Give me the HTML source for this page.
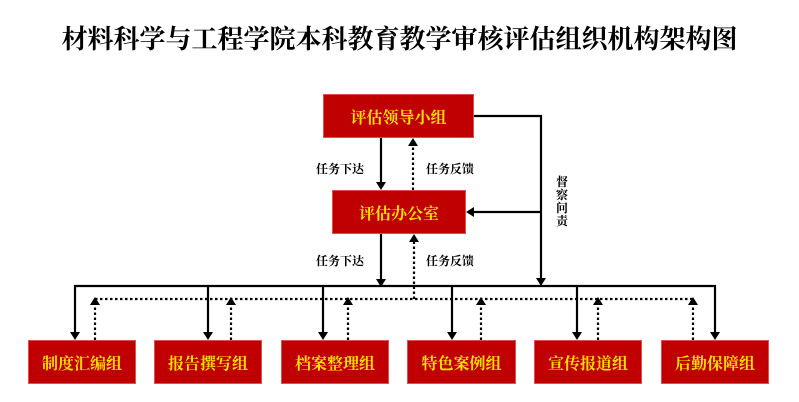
<!DOCTYPE html>
<html><head><meta charset="utf-8"><style>
body{margin:0;width:799px;height:402px;background:#fff;overflow:hidden;position:relative;font-family:"Liberation Serif","Noto Serif CJK SC",serif}
.t{position:absolute;left:0;width:799px;top:19px;text-align:center;font-size:26px;font-weight:bold;color:#000}
.b{position:absolute;background:#c00000;color:#ffe000;font-weight:bold;font-size:16px;display:flex;align-items:center;justify-content:center;border:1px solid #e05050;box-sizing:border-box}
.l{position:absolute;font-size:12px;font-weight:bold;color:#000}
</style></head><body>
<div class="t">材料科学与工程学院本科教育教学审核评估组织机构架构图</div>
<svg width="799" height="402" style="position:absolute;left:0;top:0">
<g stroke="#000" stroke-width="2.2" fill="none">
<line x1="381" y1="138" x2="381" y2="182"/>
<polyline points="474,116 541,116 541,278"/>
<line x1="541" y1="212" x2="474" y2="212"/>
<line x1="381" y1="234" x2="381" y2="279"/>
<polyline points="75,332 75,286 715,286 715,332"/>
<line x1="208" y1="286" x2="208" y2="332"/>
<line x1="323" y1="286" x2="323" y2="332"/>
<line x1="452" y1="286" x2="452" y2="332"/>
<line x1="577" y1="286" x2="577" y2="332"/>
</g>
<g fill="#000">
<path d="M376,182 L386,182 L381,190z"/>
<path d="M536,278 L546,278 L541,286z"/>
<path d="M474,207 L474,217 L466,212z"/>
<path d="M376,279 L386,279 L381,287z"/>
<path d="M70,332 L80,332 L75,340z"/><path d="M203,332 L213,332 L208,340z"/><path d="M318,332 L328,332 L323,340z"/><path d="M447,332 L457,332 L452,340z"/><path d="M572,332 L582,332 L577,340z"/><path d="M710,332 L720,332 L715,340z"/>
<path d="M408,146 L418,146 L413,138z"/>
<path d="M409,242 L419,242 L414,234z"/>
<path d="M90,305 L100,305 L95,297z"/><path d="M226,305 L236,305 L231,297z"/><path d="M343,305 L353,305 L348,297z"/><path d="M476,305 L486,305 L481,297z"/><path d="M593,305 L603,305 L598,297z"/><path d="M688,305 L698,305 L693,297z"/>
</g>
<g stroke="#000" stroke-width="2.2" stroke-dasharray="2.5,2.5" fill="none">
<line x1="413" y1="190" x2="413" y2="146"/>
<line x1="414" y1="299" x2="414" y2="242"/>
<line x1="95" y1="299" x2="693" y2="299"/>
<line x1="95" y1="340" x2="95" y2="305"/><line x1="231" y1="340" x2="231" y2="305"/><line x1="348" y1="340" x2="348" y2="305"/><line x1="481" y1="340" x2="481" y2="305"/><line x1="598" y1="340" x2="598" y2="305"/><line x1="693" y1="340" x2="693" y2="305"/>
</g>
</svg>
<div class="b" style="left:323px;top:94px;width:151px;height:44px">评估领导小组</div>
<div class="b" style="left:332px;top:190px;width:134px;height:44px">评估办公室</div>
<div class="b" style="left:28px;top:340px;width:108px;height:44px">制度汇编组</div>
<div class="b" style="left:154px;top:340px;width:108px;height:44px">报告撰写组</div>
<div class="b" style="left:281px;top:340px;width:108px;height:44px">档案整理组</div>
<div class="b" style="left:407px;top:340px;width:109px;height:44px">特色案例组</div>
<div class="b" style="left:534px;top:340px;width:108px;height:44px">宣传报道组</div>
<div class="b" style="left:661px;top:340px;width:108px;height:44px">后勤保障组</div>
<div class="l" style="left:316px;top:160px">任务下达</div>
<div class="l" style="left:426px;top:160px">任务反馈</div>
<div class="l" style="left:316px;top:252px">任务下达</div>
<div class="l" style="left:426px;top:252px">任务反馈</div>
<div class="l" style="left:556px;top:176px;width:13px;line-height:13px">督察问责</div>
</body></html>
